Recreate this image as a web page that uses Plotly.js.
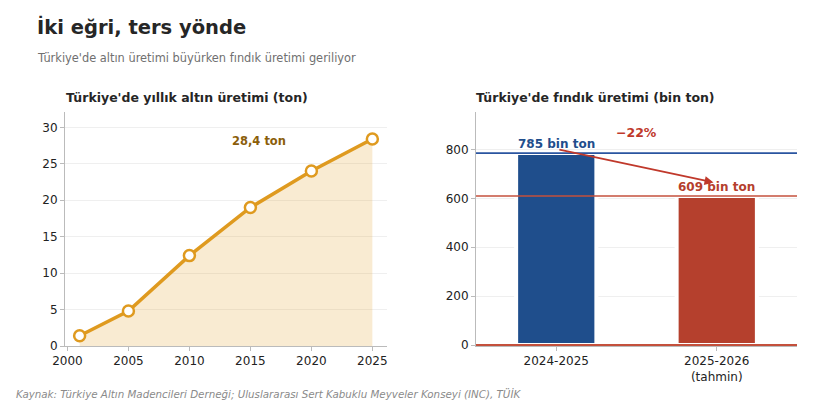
<!DOCTYPE html>
<html>
<head>
<meta charset="utf-8">
<script src="https://cdn.plot.ly/plotly-3.0.1.min.js"></script>
<style>
  html, body { margin: 0; padding: 0; background: #fff; }
  #chart { width: 820px; height: 402px; }
</style>
</head>
<body>
<div id="chart"></div>
<script>
// Gold production in Türkiye (tonnes)
const goldYears = [2001, 2005, 2010, 2015, 2020, 2025];
const goldTons = [1.4, 4.8, 12.4, 19, 24, 28.4];

// Hazelnut production in Türkiye (thousand tonnes)
const nutSeasons = ['2024-2025', '2025-2026<br>(tahmin)'];
const nutValues = [785, 609];
const nutLabels = ['785 bin ton', '609 bin ton'];
const changeLabel = '\u221222%';
const goldLabel = '28,4 ton';

const FONT = 'DejaVu Sans, Verdana, sans-serif';
const GOLD = '#DF9A1F';
const BLUE = '#1F4E8C';
const RED = '#B5402D';

const traces = [
  {
    x: goldYears, y: goldTons, type: 'scatter', mode: 'none',
    fill: 'tozeroy', fillcolor: 'rgba(223,154,31,0.2)',
    xaxis: 'x', yaxis: 'y', hoverinfo: 'skip'
  },
  {
    x: goldYears, y: goldTons, type: 'scatter', mode: 'lines+markers',
    line: { color: GOLD, width: 3.5 },
    marker: { size: 11, color: '#fff', line: { color: GOLD, width: 2.5 } },
    xaxis: 'x', yaxis: 'y'
  },
  {
    x: [0, 1], y: nutValues, type: 'bar', width: 0.5,
    marker: { color: [BLUE, RED], line: { color: '#fff', width: 4 } },
    xaxis: 'x2', yaxis: 'y2'
  }
];

const hline = (yv, color, width) => ({
  type: 'line', xref: 'x2 domain', yref: 'y2',
  x0: 0, x1: 1, y0: yv, y1: yv,
  line: { color: color, width: width }
});

const layout = {
  width: 820, height: 402,
  margin: { l: 0, r: 0, t: 0, b: 0 },
  paper_bgcolor: '#fff', plot_bgcolor: '#fff',
  showlegend: false,
  font: { family: FONT, size: 12, color: '#222' },
  xaxis: {
    domain: [65 / 820, 387 / 820], range: [1999.8, 2026.2],
    tickvals: [2000, 2005, 2010, 2015, 2020, 2025],
    showgrid: false, zeroline: false,
    showline: true, linecolor: '#bbb', linewidth: 1,
    ticks: 'outside', ticklen: 4, tickcolor: '#bbb',
    tickfont: { size: 12, color: '#222' }, anchor: 'y'
  },
  yaxis: {
    domain: [1 - 346 / 402, 1 - 112 / 402], range: [0, 32.1],
    tickvals: [0, 5, 10, 15, 20, 25, 30],
    showgrid: true, gridcolor: '#efefef', zeroline: false,
    showline: true, linecolor: '#bbb', linewidth: 1,
    ticks: 'outside', ticklen: 4, tickcolor: '#bbb',
    tickfont: { size: 12, color: '#222' }, anchor: 'x'
  },
  xaxis2: {
    domain: [476 / 820, 797 / 820], range: [-0.5, 1.5],
    tickvals: [0, 1], ticktext: nutSeasons,
    showgrid: false, zeroline: false,
    showline: true, linecolor: '#bbb', linewidth: 1,
    ticks: 'outside', ticklen: 4, tickcolor: '#bbb',
    tickfont: { size: 12, color: '#222' }, anchor: 'y2'
  },
  yaxis2: {
    domain: [1 - 346 / 402, 1 - 112 / 402], range: [-4, 953],
    tickvals: [0, 200, 400, 600, 800],
    showgrid: true, gridcolor: '#efefef', zeroline: false,
    showline: true, linecolor: '#bbb', linewidth: 1,
    ticks: 'outside', ticklen: 4, tickcolor: '#bbb',
    tickfont: { size: 12, color: '#222' }, anchor: 'x2'
  },
  shapes: [
    hline(nutValues[0], '#2A55A0', 1.8),
    hline(nutValues[1], '#C4503C', 1.5),
    hline(0, '#2A55A0', 1.8),
    hline(0, '#C4503C', 1.8)
  ],
  annotations: [
    { xref: 'paper', yref: 'paper', x: 35 / 820, y: 1 - 27 / 402,
      xanchor: 'left', yanchor: 'middle', showarrow: false,
      text: '<b>İki eğri, ters yönde</b>', font: { size: 19.5, color: '#262626' } },
    { xref: 'paper', yref: 'paper', x: 35 / 820, y: 1 - 58 / 402,
      xanchor: 'left', yanchor: 'middle', showarrow: false,
      text: "Türkiye'de altın üretimi büyürken fındık üretimi geriliyor",
      font: { size: 11.4, color: '#707070' } },
    { xref: 'paper', yref: 'paper', x: 64 / 820, y: 1 - 97 / 402,
      xanchor: 'left', yanchor: 'middle', showarrow: false,
      text: "<b>Türkiye'de yıllık altın üretimi (ton)</b>",
      font: { size: 12.5, color: '#262626' } },
    { xref: 'paper', yref: 'paper', x: 474 / 820, y: 1 - 97 / 402,
      xanchor: 'left', yanchor: 'middle', showarrow: false,
      text: "<b>Türkiye'de fındık üretimi (bin ton)</b>",
      font: { size: 12.5, color: '#262626' } },
    { xref: 'paper', yref: 'paper', x: 14 / 820, y: 1 - 394 / 402,
      xanchor: 'left', yanchor: 'middle', showarrow: false,
      text: '<i>Kaynak: Türkiye Altın Madencileri Derneği; Uluslararası Sert Kabuklu Meyveler Konseyi (INC), TÜİK</i>',
      font: { size: 10.3, color: '#8a8a8a' } },
    { xref: 'x', yref: 'y', x: 2015.7, y: goldTons[goldTons.length - 1] - 0.3,
      xanchor: 'center', yanchor: 'middle', showarrow: false,
      text: '<b>' + goldLabel + '</b>', font: { size: 11.5, color: '#8B5E0A' } },
    { xref: 'x2', yref: 'y2', x: 0, y: nutValues[0] + 37,
      xanchor: 'center', yanchor: 'middle', showarrow: false,
      text: '<b>' + nutLabels[0] + '</b>', font: { size: 12, color: BLUE } },
    { xref: 'x2', yref: 'y2', x: 1, y: nutValues[1] + 38,
      xanchor: 'center', yanchor: 'middle', showarrow: false,
      text: '<b>' + nutLabels[1] + '</b>', font: { size: 12, color: RED } },
    { xref: 'x2', yref: 'y2', x: 0.5, y: 868,
      xanchor: 'center', yanchor: 'middle', showarrow: false,
      text: '<b>' + changeLabel + '</b>', font: { size: 12.5, color: '#C0392B' } },
    { xref: 'x2', yref: 'y2', axref: 'x2', ayref: 'y2',
      x: 0.98, y: nutValues[1] + 56, ax: 0.01, ay: nutValues[0] + 15,
      showarrow: true, arrowhead: 2, arrowsize: 1, arrowwidth: 1.8,
      arrowcolor: '#C0392B', text: '' }
  ]
};

Plotly.newPlot('chart', traces, layout, { displayModeBar: false, staticPlot: true });
</script>
</body>
</html>
